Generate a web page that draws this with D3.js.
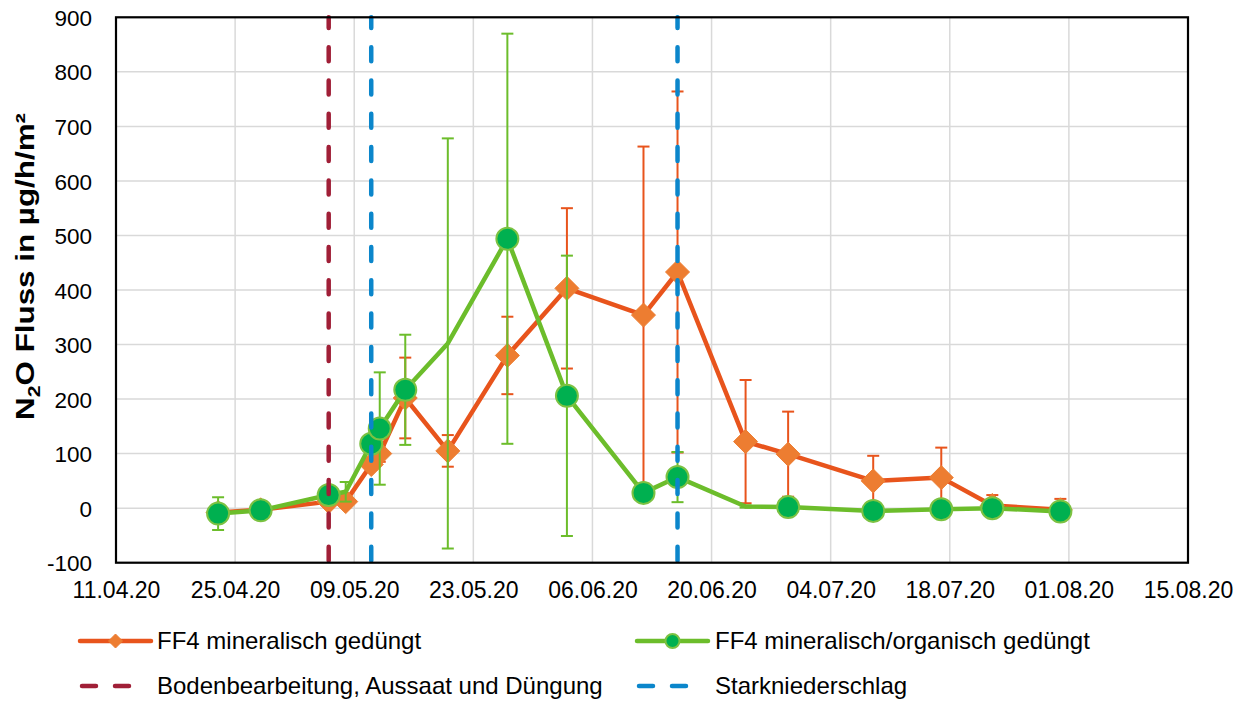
<!DOCTYPE html>
<html>
<head>
<meta charset="utf-8">
<script src="https://cdn.jsdelivr.net/npm/d3@7"></script>
<style>
  html, body { margin: 0; padding: 0; background: #fff; }
  svg { display: block; font-family: "Liberation Sans", Arial, sans-serif; }
</style>
</head>
<body>
<svg id="chart" width="1254" height="702"></svg>
<script>
// ---------- data ----------
const dates = ["23.04.20","28.04.20","06.05.20","08.05.20","11.05.20","12.05.20","15.05.20","20.05.20","27.05.20",
               "03.06.20","12.06.20","16.06.20","24.06.20","29.06.20","09.07.20","17.07.20","23.07.20","31.07.20"];
const mineral      = [-8, -3, 12, 12, 80, 100, 202, 105, 280, 403, 354, 433, 122, 99, 50, 56, 5, -3];
const mineralErr   = [5, 3, 5, 8, 10, 15, 74, 29, 71, 147, 309, 331, 113, 78, 46, 55, 19, 20];
const organic      = [-10, -4, 24, 30, 118, 146, 217, 302, 494, 206, 28, 57, 3, 2, -5, -2, 0, -6];
const organicErr   = [30, 5, 5, 18, 10, 103, 101, 376, 376, 257, 15, 46, 2, 3, 3, 3, 5, 3];
const organicNoMarker = ["08.05.20", "20.05.20", "24.06.20"];
const tillageDates = ["06.05.20"];
const rainDates    = ["11.05.20", "16.06.20"];
const xTicks = ["11.04.20","25.04.20","09.05.20","23.05.20","06.06.20","20.06.20","04.07.20","18.07.20","01.08.20","15.08.20"];
const yTicks = [-100, 0, 100, 200, 300, 400, 500, 600, 700, 800, 900];
const seriesNames = ["FF4 mineralisch gedüngt", "FF4 mineralisch/organisch gedüngt"];
const markerNames = ["Bodenbearbeitung, Aussaat und Düngung", "Starkniederschlag"];

// ---------- setup ----------
const parse = d3.timeParse("%d.%m.%y");
const fmt = d3.timeFormat("%d.%m.%y");
const svg = d3.select("#chart");
const L = 116, R = 1188, T = 17.3, B = 562.7;

const x = d3.scaleTime()
  .domain([parse(xTicks[0]), parse(xTicks[xTicks.length - 1])])
  .range([L, R]);
const y = d3.scaleLinear().domain([-100, 900]).range([B, T]);

const C = {
  grid: "#d9d9d9",
  orangeLine: "#e8541c",
  orangeFill: "#ed7d31",
  greenLine: "#6cbd2b",
  greenFill: "#00b050",
  red: "#a01f37",
  blue: "#0b86cb"
};
const FONT = "'Liberation Sans', Arial, sans-serif";

// gridlines
const g = svg.append("g");
g.selectAll(".hg").data(yTicks).join("line")
  .attr("x1", L).attr("x2", R)
  .attr("y1", d => y(d)).attr("y2", d => y(d))
  .attr("stroke", C.grid).attr("stroke-width", 1.5);
g.selectAll(".vg").data(xTicks).join("line")
  .attr("x1", d => x(parse(d))).attr("x2", d => x(parse(d)))
  .attr("y1", T).attr("y2", B)
  .attr("stroke", C.grid).attr("stroke-width", 1.5);

// axes (labels only)
const xAxis = d3.axisBottom(x)
  .tickValues(xTicks.map(parse))
  .tickFormat(fmt)
  .tickSize(0).tickPadding(0);
const xa = svg.append("g").attr("transform", `translate(0,${B})`).call(xAxis);
xa.select(".domain").remove();
xa.selectAll("text").attr("y", 35).attr("dy", 0)
  .attr("font-size", 23).attr("fill", "#000").attr("font-family", FONT);

const yAxis = d3.axisLeft(y).tickValues(yTicks).tickFormat(d => String(d)).tickSize(0).tickPadding(0);
const ya = svg.append("g").attr("transform", `translate(${L - 24},0)`).call(yAxis);
ya.select(".domain").remove();
ya.selectAll("text").attr("dy", "0.36em")
  .attr("font-size", 22.5).attr("fill", "#000").attr("font-family", FONT);

// y title
const yt = svg.append("text")
  .attr("text-anchor", "middle")
  .attr("font-weight", "bold").attr("font-size", 25)
  .attr("fill", "#000");
yt.append("tspan").text("N");
yt.append("tspan").attr("font-size", 17).attr("dy", 6).text("2");
yt.append("tspan").attr("dy", -6).text("O Fluss in µg/h/m²");
const tw = yt.node().getComputedTextLength();
yt.attr("transform", `translate(34,266.5) rotate(-90) scale(${307 / tw},1)`);

// ---------- series ----------
function drawSeries(vals, errs, lineColor, errColor, markerFn, noMarker) {
  const pts = dates.map((d, i) => ({ d: parse(d), key: d, v: vals[i], e: errs[i] }));
  const eg = svg.append("g");
  pts.forEach(p => {
    const px = x(p.d);
    eg.append("line").attr("x1", px).attr("x2", px)
      .attr("y1", y(p.v + p.e)).attr("y2", y(p.v - p.e))
      .attr("stroke", errColor).attr("stroke-width", 2);
    [p.v + p.e, p.v - p.e].forEach(v => {
      eg.append("line").attr("x1", px - 6).attr("x2", px + 6)
        .attr("y1", y(v)).attr("y2", y(v))
        .attr("stroke", errColor).attr("stroke-width", 2);
    });
  });
  svg.append("path").datum(pts)
    .attr("d", d3.line().x(p => x(p.d)).y(p => y(p.v)))
    .attr("fill", "none").attr("stroke", lineColor)
    .attr("stroke-width", 4.5).attr("stroke-linejoin", "round");
  const mg = svg.append("g");
  pts.filter(p => !noMarker.includes(p.key)).forEach(p => markerFn(mg, x(p.d), y(p.v)));
}

function diamond(gr, cx, cy, s = 12) {
  gr.append("path")
    .attr("d", `M${cx},${cy - s}L${cx + s},${cy}L${cx},${cy + s}L${cx - s},${cy}Z`)
    .attr("fill", C.orangeFill).attr("stroke", C.orangeFill).attr("stroke-width", 1);
}
function circle(gr, cx, cy, r = 11) {
  gr.append("circle").attr("cx", cx).attr("cy", cy).attr("r", r)
    .attr("fill", C.greenFill).attr("stroke", "#7cc242").attr("stroke-width", 2);
}

drawSeries(mineral, mineralErr, C.orangeLine, C.orangeLine, diamond, []);
drawSeries(organic, organicErr, C.greenLine, C.greenLine, circle, organicNoMarker);

// event lines (drawn from bottom up)
function eventLine(d, color) {
  const px = x(parse(d));
  svg.append("line").attr("x1", px).attr("x2", px)
    .attr("y1", y(-100)).attr("y2", y(900))
    .attr("stroke", color).attr("stroke-width", 4.5)
    .attr("stroke-linecap", "round")
    .attr("stroke-dasharray", "14,19.3").attr("stroke-dashoffset", -2);
}
tillageDates.forEach(d => eventLine(d, C.red));
rainDates.forEach(d => eventLine(d, C.blue));

// plot border
svg.append("rect").attr("x", L).attr("y", T).attr("width", R - L).attr("height", B - T)
  .attr("fill", "none").attr("stroke", "#000").attr("stroke-width", 2.2);

// ---------- legend ----------
const lg = svg.append("g").attr("font-size", 24).attr("fill", "#000").attr("font-family", FONT);
const rows = [641, 686];
const cols = [80, 637];
// series 1
lg.append("line").attr("x1", cols[0]).attr("x2", cols[0] + 71).attr("y1", rows[0]).attr("y2", rows[0])
  .attr("stroke", C.orangeLine).attr("stroke-width", 4.5).attr("stroke-linecap", "round");
diamond(lg, cols[0] + 35.5, rows[0], 7);
lg.append("text").attr("x", 157).attr("y", rows[0]).attr("dy", "0.35em").text(seriesNames[0]);
// series 2
lg.append("line").attr("x1", cols[1]).attr("x2", cols[1] + 71).attr("y1", rows[0]).attr("y2", rows[0])
  .attr("stroke", C.greenLine).attr("stroke-width", 4.5).attr("stroke-linecap", "round");
circle(lg, cols[1] + 35.5, rows[0], 7);
lg.append("text").attr("x", 715).attr("y", rows[0]).attr("dy", "0.35em").text(seriesNames[1]);
// event legends
[[C.red, 0, markerNames[0], 157], [C.blue, 1, markerNames[1], 715]].forEach(([col, i, name, tx]) => {
  lg.append("line").attr("x1", cols[i] + 2).attr("x2", cols[i] + 49).attr("y1", rows[1]).attr("y2", rows[1])
    .attr("stroke", col).attr("stroke-width", 4.5).attr("stroke-linecap", "round")
    .attr("stroke-dasharray", "14,19");
  lg.append("text").attr("x", tx).attr("y", rows[1]).attr("dy", "0.35em").text(name);
});
</script>
</body>
</html>
